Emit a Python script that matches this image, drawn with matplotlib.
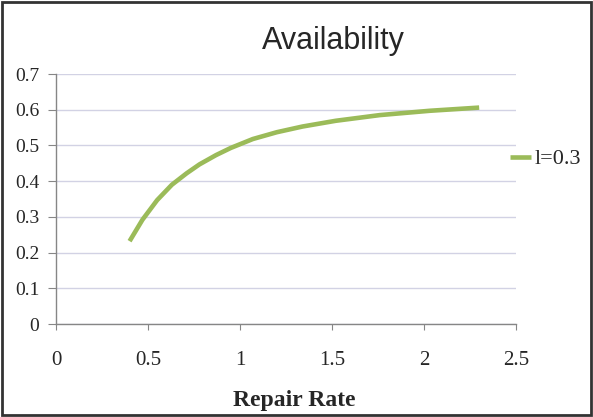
import matplotlib
matplotlib.use("Agg")
import matplotlib.pyplot as plt
from matplotlib.patches import Rectangle

# values
repair_rate = [0.40, 0.47, 0.55, 0.63, 0.71, 0.78, 0.87, 0.95, 1.07, 1.20, 1.34, 1.52, 1.76, 2.03, 2.30]
availability = [0.232, 0.292, 0.347, 0.390, 0.422, 0.447, 0.473, 0.493, 0.518, 0.537, 0.553, 0.569, 0.585, 0.597, 0.606]
series_label = "l=0.3"
x_ticks = [0, 0.5, 1, 1.5, 2, 2.5]
x_ticklabels = ["0", "0.5", "1", "1.5", "2", "2.5"]
y_ticks = [0, 0.1, 0.2, 0.3, 0.4, 0.5, 0.6, 0.7]
y_ticklabels = ["0", "0.1", "0.2", "0.3", "0.4", "0.5", "0.6", "0.7"]

serif = "Liberation Serif"
sans = "Liberation Sans"
axis_grey = "#868686"
text_col = "#262626"

fig = plt.figure(figsize=(5.93, 4.17), dpi=100)
ax = fig.add_axes([0.0944, 0.223, 0.7757, 0.5995])

ax.plot(repair_rate, availability, color="#9BBB59", lw=3.3, solid_capstyle="butt",
        solid_joinstyle="round", label=series_label, zorder=3)

ax.set_xlim(0, 2.5)
ax.set_ylim(0, 0.7)
ax.set_xticks(x_ticks)
ax.set_xticklabels(x_ticklabels, fontfamily=serif, fontsize=15, color=text_col)
ax.set_yticks(y_ticks)
ax.set_yticklabels(y_ticklabels, fontfamily=serif, fontsize=14, color=text_col)
ax.tick_params(axis="x", direction="out", length=4.5, color=axis_grey, pad=15)
ax.tick_params(axis="y", direction="out", length=6, color=axis_grey, pad=6)

# light horizontal gridlines
ax.yaxis.grid(True, color="#d2d2e4", lw=1)
ax.set_axisbelow(True)

for side in ("top", "right"):
    ax.spines[side].set_visible(False)
for side in ("left", "bottom"):
    ax.spines[side].set_color(axis_grey)
    ax.spines[side].set_linewidth(1)

fig.text(0.5616, 0.8825, "Availability", fontfamily=sans, fontsize=22,
         ha="center", va="baseline", color=text_col)
fig.text(0.497, 0.0264, "Repair Rate", fontfamily=serif, fontsize=17,
         fontweight="bold", ha="center", va="baseline", color=text_col)

leg = ax.legend(loc="center left", bbox_to_anchor=(0.987, 0.66), frameon=False,
                handlelength=0.95, handletextpad=0.18, borderaxespad=0, borderpad=0,
                prop={"family": serif, "size": 16})
for t in leg.get_texts():
    t.set_color(text_col)

# chart border
fig.patches.append(Rectangle((0.004, 0.004), 0.992, 0.992, transform=fig.transFigure,
                             fill=False, edgecolor="#333333", lw=2))

fig.savefig("out.png", dpi=100)
